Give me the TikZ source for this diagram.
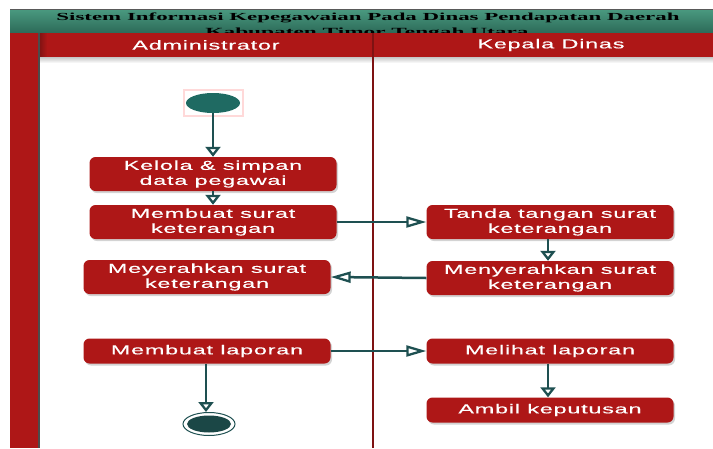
\documentclass[tikz,border=0pt]{standalone}
\usepackage{fontspec}
\usetikzlibrary{arrows.meta,shadows,shapes.geometric}
\newfontfamily\boxfont{Liberation Sans}[FakeStretch=1.8,LetterSpace=6,FakeBold=0.4]
\newfontfamily\titlefont{Liberation Serif}[FakeStretch=1.5]
\definecolor{lanered}{HTML}{AE1717}
\definecolor{lanedark}{HTML}{7E1212}
\definecolor{flowteal}{HTML}{1E5051}
\definecolor{tealtop}{HTML}{4A9A80}
\definecolor{tealbot}{HTML}{2C6A58}
\definecolor{startfill}{HTML}{1F6A62}
\definecolor{endfill}{HTML}{1B4746}
\tikzset{
  actbox/.style={rounded corners=6pt, fill=lanered, text=white,
    minimum width=247pt, inner sep=1pt, align=center,
    font=\boxfont\fontsize{13}{15}\selectfont,
    drop shadow={shadow xshift=1.5pt, shadow yshift=-2pt, opacity=0.35, fill=gray}},
  twoline/.style={actbox, minimum height=34pt},
  oneline/.style={actbox, minimum height=25pt},
  lanetitle/.style={text=white, font=\boxfont\fontsize{13}{15}\selectfont, inner sep=0pt},
  vflow/.style={draw=flowteal, line width=2.5pt,
    -{Triangle[length=10pt, width=15pt, fill=white, line width=2.3pt]}},
  hflow/.style={draw=flowteal, line width=2.5pt,
    -{Triangle[length=20pt, width=11pt, fill=white, line width=2.3pt]}}
}
\begin{document}
\begin{tikzpicture}[x=1pt,y=-1pt]
\useasboundingbox (0,0) rectangle (713,448);
\clip (0,0) rectangle (713,448);

% pool title bar
\shade[top color=tealtop, bottom color=tealbot] (10,9) rectangle (713,33);
\draw[gray!70!black, line width=0.8pt] (10,9) -- (713,9);
\node[inner sep=0pt, anchor=base] (titleA) at (368,20)
  {\resizebox{623pt}{7.6pt}{\titlefont\bfseries Sistem Informasi Kepegawaian Pada Dinas Pendapatan Daerah}};
\node[inner sep=0pt, anchor=base] (titleB) at (367,35)
  {\resizebox{323pt}{7.6pt}{\titlefont\bfseries Kabupaten Timor Tengah Utara}};

% left band and lane headers
\fill[lanered] (10,33) rectangle (38,448);
\fill[lanered] (38,33) rectangle (713,57);
\shade[left color=lanedark, right color=lanered] (39,33) rectangle (47,57);
\shade[top color=gray!45, bottom color=white] (40,57) rectangle (713,63);
\draw[gray!60!black, line width=1.2pt] (39,33) -- (39,448);
\draw[lanedark, line width=1.6pt] (373,33) -- (373,448);
\node[lanetitle] (laneA) at (206,45) {Administrator};
\node[lanetitle] (laneB) at (551,45) {Kepala Dinas};

% start and end states
\draw[red!25, line width=1.2pt, opacity=0.6] (184,90) rectangle (243,116);
\node[ellipse, fill=startfill, minimum width=54pt, minimum height=20pt, inner sep=0pt] (init) at (213,103) {};
\node[ellipse, draw=flowteal, line width=1pt, fill=white, minimum width=52pt, minimum height=23pt, inner sep=0pt] (finish) at (209,424) {};
\node[ellipse, fill=endfill, minimum width=44pt, minimum height=17pt, inner sep=0pt] (finishdot) at (209,424) {};

% activities
\node[twoline] (kelola) at (213,174) {Kelola \& simpan\\data pegawai};
\node[twoline] (buatsurat) at (213,222) {Membuat surat\\keterangan};
\node[twoline] (serahA) at (207,277) {Meyerahkan surat\\keterangan};
\node[oneline] (laporan) at (207,351) {Membuat laporan};
\node[twoline] (ttd) at (550,222) {Tanda tangan surat\\keterangan};
\node[twoline] (serahB) at (550,278) {Menyerahkan surat\\keterangan};
\node[oneline] (lihat) at (550,351) {Melihat laporan};
\node[oneline] (ambil) at (550,410) {Ambil keputusan};

% transitions
\draw[vflow] (init.south) -- (kelola.north);
\draw[vflow] (kelola.south) -- (buatsurat.north);
\draw[hflow] (buatsurat.east) -- (ttd.west);
\draw[vflow] ([xshift=-2pt]ttd.south) -- ([xshift=-2pt]serahB.north);
\draw[hflow] (serahB.west) -- (serahA.east);
\draw[hflow] (laporan.east) -- (lihat.west);
\draw[vflow] ([xshift=-2pt]lihat.south) -- ([xshift=-2pt]ambil.north);
\draw[vflow] ([xshift=-1pt]laporan.south) -- ([xshift=-1pt]laporan.south |- finish.north);
\end{tikzpicture}
\end{document}
